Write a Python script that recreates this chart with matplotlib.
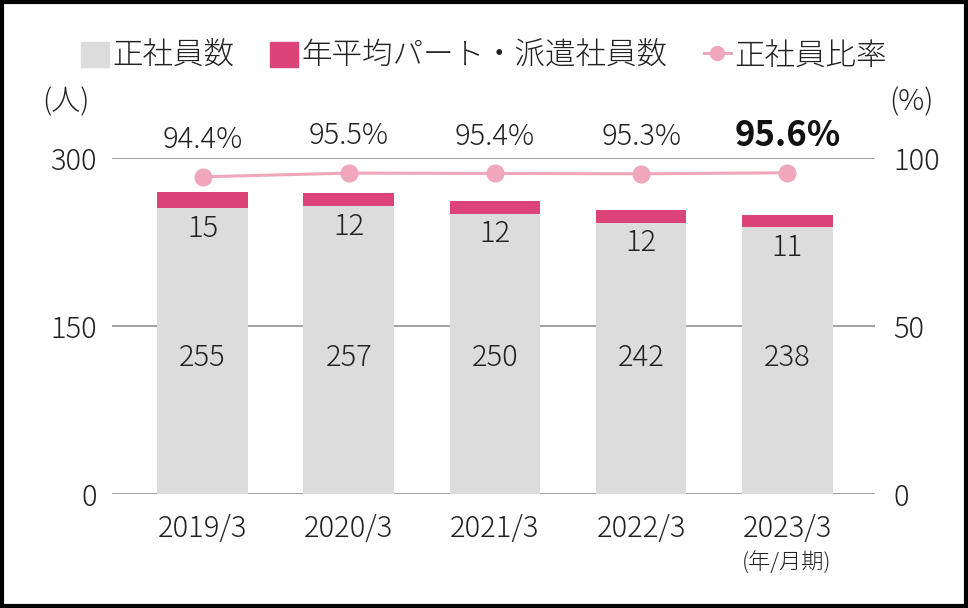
import matplotlib.pyplot as plt
from matplotlib.patches import Rectangle
from matplotlib.lines import Line2D

plt.rcParams['font.family'] = ['Noto Sans CJK JP', 'DejaVu Sans']
plt.rcParams['font.weight'] = 'light'

years = ['2019/3', '2020/3', '2021/3', '2022/3', '2023/3']
regular = [255, 257, 250, 242, 238]
part_time = [15, 12, 12, 12, 11]
ratio = [94.4, 95.5, 95.4, 95.3, 95.6]

GRAY = '#dcdcdc'
PINK = '#dc4479'
LINE = '#f0a7bb'
TXT = '#222222'
FS = 21

fig = plt.figure(figsize=(9.68, 6.08), dpi=100)
ax = fig.add_axes([112 / 968, 1 - 494 / 608, (875 - 112) / 968, 336 / 608])

x = list(range(len(years)))
ax.bar(x, regular, width=0.62, color=GRAY, zorder=2)
ax.bar(x, part_time, width=0.62, bottom=regular, color=PINK, zorder=2)

# labels inside the bars
for i in x:
    ax.text(i, 122, str(regular[i]), ha='center', va='center',
            fontsize=FS, color=TXT, zorder=4)
    ax.text(i, regular[i] - 18, str(part_time[i]), ha='center', va='center',
            fontsize=FS, color=TXT, zorder=4)

ax.set_xlim(-0.62, 4.6)
ax.set_ylim(0, 300)
ax.set_yticks([0, 150, 300])
ax.yaxis.grid(True, color='#9a9a9a', linewidth=1.3, zorder=1)
ax.set_axisbelow(True)
for s in ax.spines.values():
    s.set_visible(False)
ax.tick_params(axis='both', length=0, labelsize=FS, colors=TXT)
ax.tick_params(axis='y', pad=11)
ax.tick_params(axis='x', pad=14)
ax.set_xticks(x)
ax.set_xticklabels(years)

ax2 = ax.twinx()
ax2.set_ylim(0, 100)
ax2.set_yticks([0, 50, 100])
for s in ax2.spines.values():
    s.set_visible(False)
ax2.tick_params(axis='y', length=0, labelsize=FS, colors=TXT, pad=13)
ax2.plot(x, ratio, color=LINE, linewidth=2.2, marker='o', markersize=12, zorder=5)

for i in x:
    last = i == len(x) - 1
    ax2.text(i, ratio[i] + 11, f'{ratio[i]}%',
             ha='center', va='center', color='#111111' if last else TXT,
             fontsize=25 if last else FS, fontweight='bold' if last else 'light')

fig.text(787 / 968, 1 - 563 / 608, '(年/月期)', ha='center', va='center', fontsize=16, color=TXT)
fig.text(66 / 968, 1 - 102 / 608, '(人)', ha='center', va='center', fontsize=FS, color=TXT)
fig.text(911 / 968, 1 - 102 / 608, '(%)', ha='center', va='center', fontsize=FS, color=TXT)

handles = [
    Rectangle((0, 0), 1, 1, color=GRAY),
    Rectangle((0, 0), 1, 1, color=PINK),
    Line2D([0], [0], color=LINE, linewidth=2.2, marker='o', markersize=10),
]
fig.legend(handles, ['正社員数', '年平均パート・派遣社員数', '正社員比率'],
           loc='center', bbox_to_anchor=(0.5, 1 - 56 / 608), ncol=3, frameon=False,
           fontsize=22, handlelength=0.9, handleheight=0.9, handletextpad=0.1,
           columnspacing=1.2, labelcolor=TXT)

fig.patches.append(Rectangle((0.002, 0.003), 0.996, 0.994, transform=fig.transFigure,
                             fill=False, edgecolor='black', linewidth=3))

fig.savefig('out.png', dpi=100)
